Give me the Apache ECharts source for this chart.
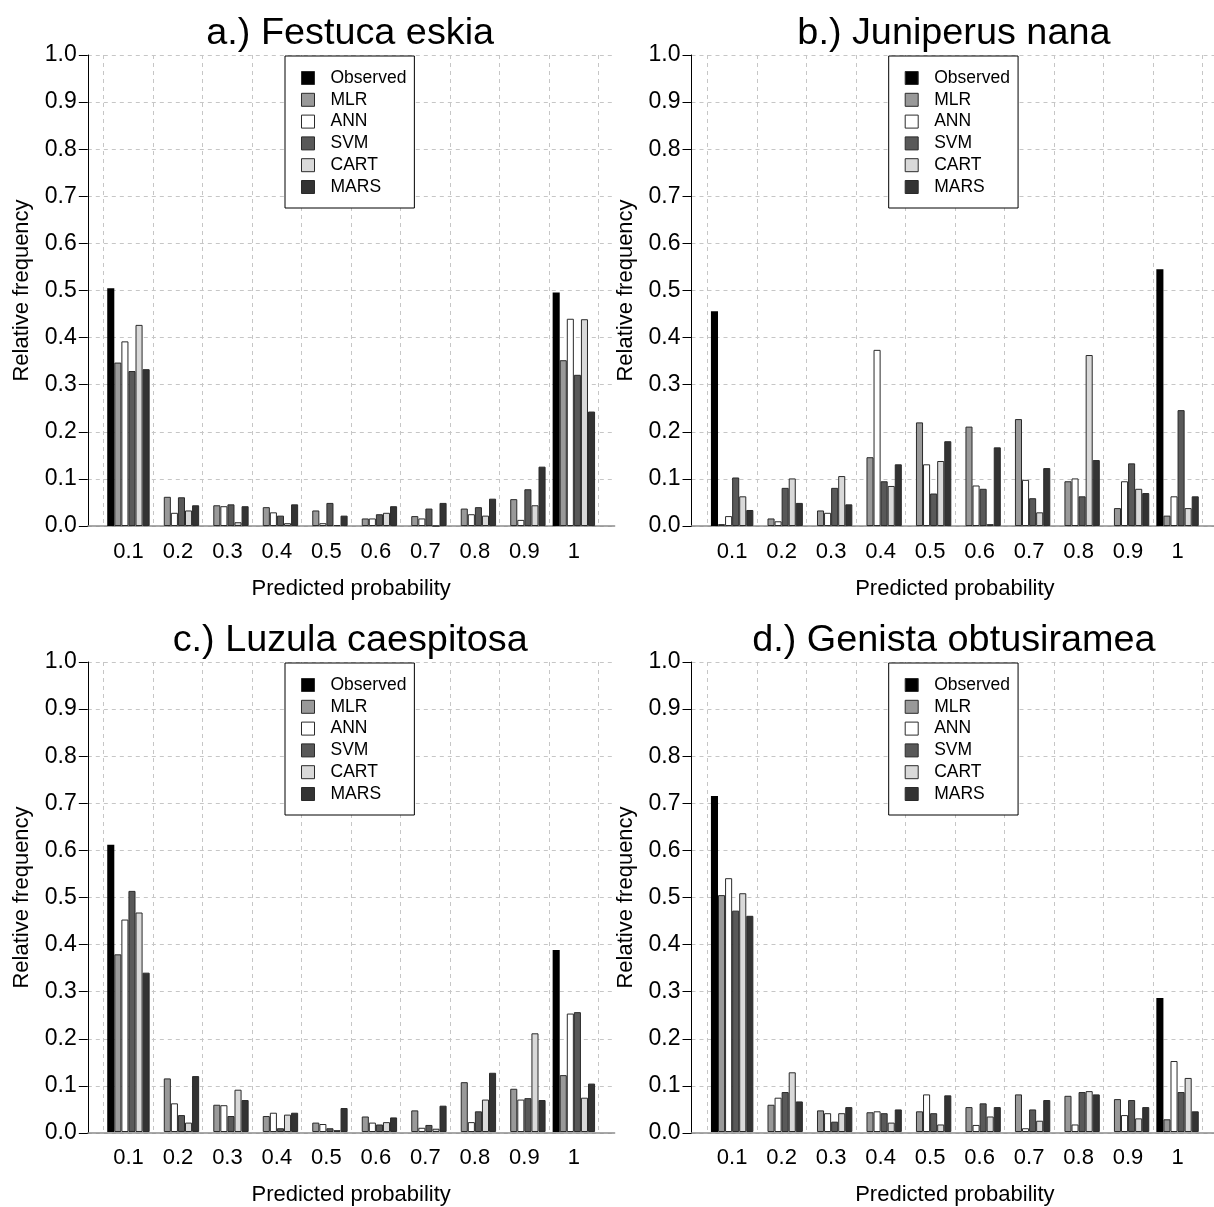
<!DOCTYPE html>
<html>
<head>
<meta charset="utf-8">
<script src="https://cdn.jsdelivr.net/npm/echarts@6/dist/echarts.min.js"></script>
<style>
html,body{margin:0;padding:0;background:#fff;}
#chart{width:1214px;height:1207px;}
</style>
</head>
<body>
<div id="chart"></div>
<script>
// ---- data ----
const categories = ['0.1','0.2','0.3','0.4','0.5','0.6','0.7','0.8','0.9','1'];
const seriesNames = ['Observed','MLR','ANN','SVM','CART','MARS'];
const yTicks = ['0.0','0.1','0.2','0.3','0.4','0.5','0.6','0.7','0.8','0.9','1.0'];
const titles = ['a.) Festuca eskia','b.) Juniperus nana','c.) Luzula caespitosa','d.) Genista obtusiramea'];

// a.) Festuca eskia
const obsA  = [0.505,0,0,0,0,0,0,0,0,0.496];
const mlrA  = [0.347,0.062,0.044,0.040,0.033,0.016,0.021,0.037,0.057,0.352];
const annA  = [0.392,0.028,0.042,0.029,0.006,0.016,0.016,0.025,0.013,0.440];
const svmA  = [0.329,0.061,0.046,0.022,0.049,0.025,0.037,0.040,0.078,0.321];
const cartA = [0.427,0.033,0.008,0.006,0.002,0.028,0.000,0.022,0.044,0.439];
const marsA = [0.333,0.044,0.042,0.046,0.022,0.042,0.049,0.058,0.126,0.243];
// b.) Juniperus nana
const obsB  = [0.456,0,0,0,0,0,0,0,0,0.545];
const mlrB  = [0.004,0.016,0.033,0.146,0.220,0.211,0.227,0.095,0.038,0.022];
const annB  = [0.021,0.010,0.028,0.374,0.131,0.086,0.098,0.101,0.095,0.063];
const svmB  = [0.103,0.081,0.081,0.095,0.069,0.079,0.059,0.063,0.133,0.246];
const cartB = [0.063,0.101,0.106,0.085,0.138,0.004,0.029,0.363,0.079,0.038];
const marsB = [0.034,0.049,0.046,0.131,0.180,0.167,0.123,0.140,0.070,0.063];
// c.) Luzula caespitosa
const obsC  = [0.611,0,0,0,0,0,0,0,0,0.387];
const mlrC  = [0.378,0.114,0.058,0.034,0.020,0.033,0.046,0.106,0.092,0.121];
const annC  = [0.452,0.061,0.057,0.041,0.017,0.020,0.009,0.021,0.069,0.252];
const svmC  = [0.513,0.036,0.034,0.008,0.008,0.016,0.015,0.044,0.072,0.255];
const cartC = [0.467,0.020,0.090,0.037,0.004,0.021,0.007,0.069,0.210,0.073];
const marsC = [0.339,0.119,0.068,0.041,0.051,0.031,0.056,0.126,0.068,0.103];
// d.) Genista obtusiramea
const obsD  = [0.715,0,0,0,0,0,0,0,0,0.285];
const mlrD  = [0.504,0.058,0.046,0.042,0.044,0.053,0.080,0.077,0.070,0.027];
const annD  = [0.540,0.073,0.040,0.044,0.080,0.015,0.008,0.016,0.036,0.151];
const svmD  = [0.471,0.085,0.022,0.040,0.040,0.061,0.048,0.085,0.068,0.085];
const cartD = [0.508,0.127,0.040,0.020,0.016,0.033,0.024,0.087,0.029,0.115];
const marsD = [0.460,0.065,0.053,0.048,0.078,0.053,0.068,0.080,0.053,0.044];

const panelData = [
  [obsA, mlrA, annA, svmA, cartA, marsA],
  [obsB, mlrB, annB, svmB, cartB, marsB],
  [obsC, mlrC, annC, svmC, cartC, marsC],
  [obsD, mlrD, annD, svmD, cartD, marsD]
];

// ---- styles ----
const seriesColors = ['#000000','#999999','#ffffff','#595959','#d9d9d9','#333333'];
const FONT = '"Liberation Sans", Arial, Helvetica, sans-serif';
const gridDash = {color:'#c6c6c6', type:[4,4], width:1};

const PL = 87.8, PT = 55, PW = 526.8, PH = 471;   // plot region
const BL = 103.7, BW = 494.9;                     // band region (bars)
const DX = 603.7, DY = 607;

const grid = [], xAxis = [], yAxis = [], series = [], legend = [], title = [];

panelData.forEach((pd, p) => {
  const col = p % 2, row = Math.floor(p / 2);
  const dx = col * DX, dy = row * DY;
  const gA = 2*p, gB = 2*p + 1;
  grid.push({left: PL + dx, top: PT + dy, width: PW, height: PH});
  grid.push({left: BL + dx, top: PT + dy, width: BW, height: PH});

  xAxis.push({
    type:'value', gridIndex:gA, min:0, max:1,
    axisLine:{show:true, lineStyle:{color:'#8c8c8c', width:1.5}},
    axisTick:{show:false}, axisLabel:{show:false}, splitLine:{show:false}
  });
  yAxis.push({
    type:'value', gridIndex:gA, min:0, max:1, interval:0.1,
    axisLine:{show:true, lineStyle:{color:'#000', width:1}},
    axisTick:{show:true, length:9, lineStyle:{color:'#000'}},
    axisLabel:{color:'#000', fontSize:23, fontFamily:FONT, margin:11,
      formatter:(v) => yTicks[Math.round(v*10)]},
    splitLine:{show:true, lineStyle:gridDash},
    name:'Relative frequency', nameLocation:'middle', nameGap:55,
    nameTextStyle:{color:'#000', fontSize:22, fontFamily:FONT}
  });

  xAxis.push({
    type:'category', gridIndex:gB, data:categories,
    axisLine:{show:false}, axisTick:{show:false},
    axisLabel:{color:'#000', fontSize:22, fontFamily:FONT, margin:15, interval:0},
    splitLine:{show:true, interval:0, lineStyle:gridDash},
    name:'Predicted probability', nameLocation:'middle', nameGap:52,
    nameTextStyle:{color:'#000', fontSize:22, fontFamily:FONT}
  });
  yAxis.push({type:'value', gridIndex:gB, min:0, max:1, show:false});

  pd.forEach((vals, i) => {
    series.push({
      type:'bar', name:seriesNames[i], xAxisIndex:gB, yAxisIndex:gB,
      data:vals, barGap:'0%', barCategoryGap:'14.2857%',
      itemStyle:{color:seriesColors[i], borderColor:'#2a2a2a', borderWidth: i === 0 ? 0 : 1},
      emphasis:{disabled:true}, animation:false, z:3
    });
  });

  legend.push({
    orient:'vertical', left:285 + dx, top:56 + dy,
    data:seriesNames, icon:'rect', itemWidth:13, itemHeight:13, itemGap:3.8,
    padding:[13, 8, 12, 16], borderColor:'#000', borderWidth:1,
    backgroundColor:'#fff', selectedMode:false,
    itemStyle:{borderColor:'#2a2a2a', borderWidth:1},
    textStyle:{color:'#000', fontSize:17.5, fontFamily:FONT, lineHeight:18, padding:[0,0,0,11]}
  });

  title.push({
    text:titles[p], left:PL + dx + PW/2 - 6, top:10 + dy, textAlign:'center',
    textStyle:{color:'#000', fontSize:37.8, fontWeight:'normal', fontFamily:FONT}
  });
});

const chart = echarts.init(document.getElementById('chart'), null, {renderer:'canvas'});
chart.setOption({
  backgroundColor:'#fff',
  animation:false,
  title, legend, grid, xAxis, yAxis, series
});
</script>
</body>
</html>
